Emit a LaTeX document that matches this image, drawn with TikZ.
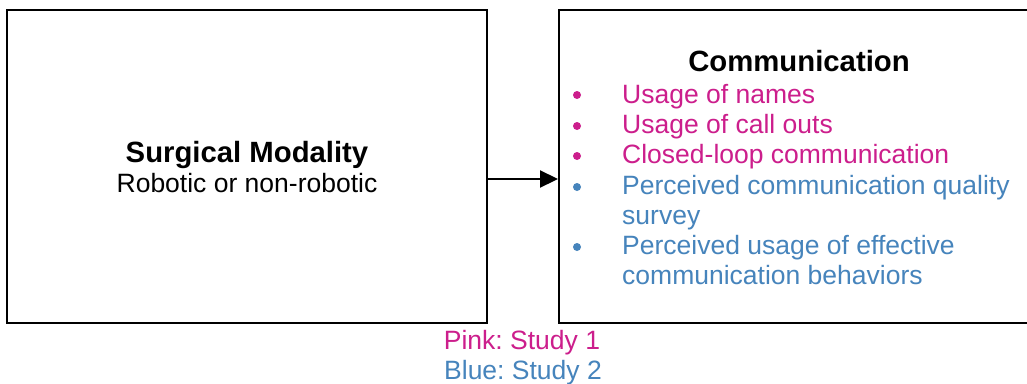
\documentclass[tikz,border=0pt]{standalone}
\usepackage{fontspec}
\setmainfont{Liberation Sans}
\usetikzlibrary{arrows.meta}
\definecolor{studypink}{RGB}{204,30,140}
\definecolor{studyblue}{RGB}{70,132,188}
\frenchspacing
\begin{document}
\begin{tikzpicture}[x=1pt,y=-1pt,
  box/.style={draw=black,line width=2pt,rectangle,inner sep=0pt},
  headtxt/.style={font=\fontsize{29.3}{32}\selectfont\bfseries,inner sep=0pt,anchor=base},
  bodytxt/.style={font=\fontsize{26.5}{30}\selectfont,inner sep=0pt},
  itemtxt/.style={bodytxt,anchor=base west},
  dot/.style={circle,fill,inner sep=0pt,minimum size=8pt}]
\useasboundingbox (0,0) rectangle (1027,383);
\fill[white] (0,0) rectangle (1027,383);
% the two boxes
\node[box,minimum width=480pt,minimum height=313pt] (modality) at (247,166.5) {};
\node[box,minimum width=476pt,minimum height=313pt] (comm) at (797,166.5) {};
% left box text
\node[headtxt] (mtitle) at (247,162) {Surgical Modality};
\node[bodytxt,anchor=base] (msub) at (247,192) {Robotic or non-robotic};
% arrow between the boxes
\draw[line width=2.2pt,-{Triangle[length=18pt,width=17pt]}] (modality.east |- 0,179) -- (comm.west |- 0,179);
% right box heading and list
\node[headtxt] (ctitle) at (799,71) {Communication};
\begin{scope}[studypink]
\node[dot] (b1) at (577,95) {};
\node[itemtxt] (i1) at (622,103) {Usage of names};
\node[dot] (b2) at (577,126) {};
\node[itemtxt] (i2) at (622,133) {Usage of call outs};
\node[dot] (b3) at (577,156) {};
\node[itemtxt] (i3) at (622,163) {Closed-loop communication};
\end{scope}
\begin{scope}[studyblue]
\node[dot] (b4) at (577,187) {};
\node[itemtxt] (i4) at (622,194) {Perceived communication quality};
\node[itemtxt] (i4b) at (622,224) {survey};
\node[dot] (b5) at (577,247) {};
\node[itemtxt] (i5) at (622,254) {Perceived usage of effective};
\node[itemtxt] (i5b) at (622,284) {communication behaviors};
\end{scope}
% legend
\node[bodytxt,anchor=base,text=studypink] (lpink) at (522,349) {Pink: Study 1};
\node[bodytxt,anchor=base,text=studyblue] (lblue) at (523,379) {Blue: Study 2};
\end{tikzpicture}
\end{document}
